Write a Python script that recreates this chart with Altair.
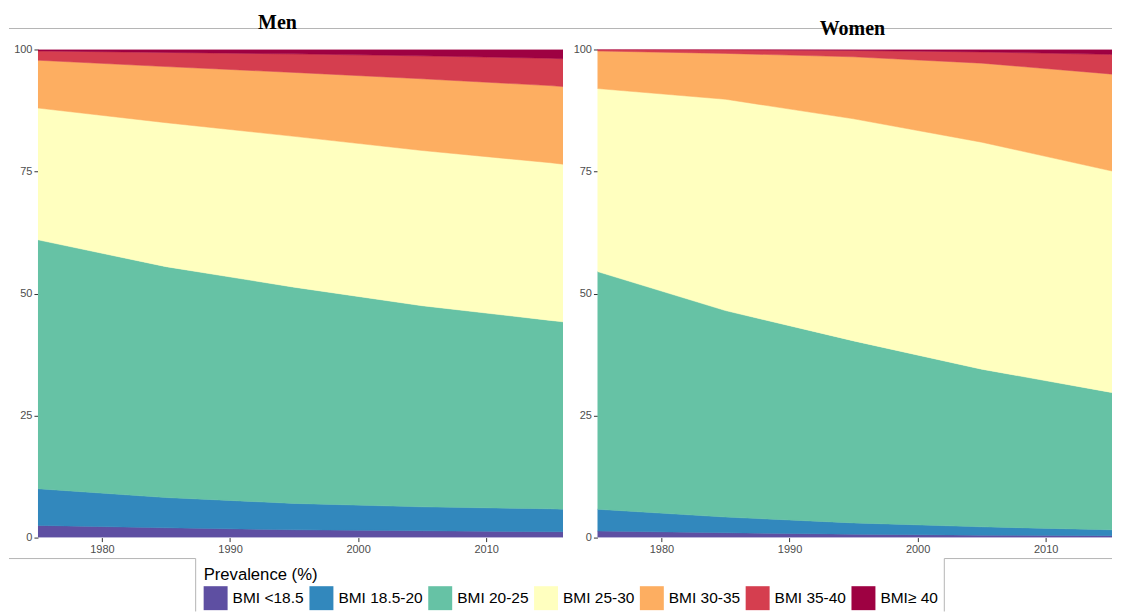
import altair as alt
import pandas as pd

years = [1975, 1985, 1995, 2005, 2015, 2016]
categories = ["BMI <18.5", "BMI 18.5-20", "BMI 20-25", "BMI 25-30",
              "BMI 30-35", "BMI 35-40", "BMI≥ 40"]
colors = ["#5e4fa2", "#3288bd", "#66c2a5", "#ffffbf",
          "#fdae61", "#d53e4f", "#9e0142"]

# Men: prevalence (%) of each BMI band
men_lt185 = [2.5, 2.0, 1.6, 1.4, 1.2, 1.2]
men_185_20 = [7.5, 6.2, 5.4, 4.9, 4.7, 4.6]
men_20_25 = [51.0, 47.3, 44.3, 41.2, 38.6, 38.4]
men_25_30 = [27.0, 29.5, 30.9, 31.8, 32.3, 32.3]
men_30_35 = [9.8, 11.5, 13.1, 14.7, 15.8, 15.9]
men_35_40 = [1.9, 2.9, 3.8, 4.7, 5.6, 5.7]
men_ge40 = [0.3, 0.6, 0.9, 1.3, 1.8, 1.9]

# Women
women_lt185 = [1.35, 1.0, 0.7, 0.5, 0.4, 0.4]
women_185_20 = [4.45, 3.2, 2.3, 1.7, 1.2, 1.1]
women_20_25 = [48.7, 42.3, 37.3, 32.3, 28.2, 27.8]
women_25_30 = [37.5, 43.3, 45.5, 46.5, 45.4, 45.4]
women_30_35 = [7.7, 9.4, 12.7, 16.2, 19.8, 20.0]
women_35_40 = [0.3, 0.75, 1.3, 2.3, 4.0, 4.2]
women_ge40 = [0.0, 0.05, 0.2, 0.5, 1.0, 1.1]

x_ticks = [1980, 1990, 2000, 2010]
y_ticks = [0, 25, 50, 75, 100]


def long_table(series):
    rows = []
    for i, (cat, vals) in enumerate(zip(categories, series)):
        for yr, v in zip(years, vals):
            rows.append({"year": yr, "bmi": cat, "idx": i, "value": v})
    return pd.DataFrame(rows)


men_df = long_table([men_lt185, men_185_20, men_20_25, men_25_30,
                     men_30_35, men_35_40, men_ge40])
women_df = long_table([women_lt185, women_185_20, women_20_25, women_25_30,
                       women_30_35, women_35_40, women_ge40])

axis_common = dict(title=None, grid=False, domain=False, tickColor="#333333",
                   tickSize=4, labelColor="#4d4d4d", labelFont="Liberation Sans",
                   labelFontSize=11)


def area_chart(df, width, x_end, legend):
    return alt.Chart(df).mark_area(clip=True, strokeWidth=0.5).encode(
        x=alt.X("year:Q",
                scale=alt.Scale(domain=[1975, x_end], nice=False, zero=False),
                axis=alt.Axis(values=x_ticks, format="d", labelPadding=2, **axis_common)),
        y=alt.Y("value:Q", stack="zero",
                scale=alt.Scale(domain=[0, 100], nice=False),
                axis=alt.Axis(values=y_ticks, labelPadding=2, **axis_common)),
        color=alt.Color("bmi:N", scale=alt.Scale(domain=categories, range=colors),
                        legend=legend),
        stroke=alt.Stroke("bmi:N", scale=alt.Scale(domain=categories, range=colors),
                          legend=None),
        order=alt.Order("idx:Q"),
    ).properties(width=width, height=489)


legend = alt.Legend(
    title="Prevalence (%)", orient="none", legendX=166, legendY=518,
    direction="horizontal", columns=7, symbolType="square", symbolSize=576,
    symbolStrokeWidth=0, titleFont="Liberation Sans", titleFontSize=16.7,
    titleFontWeight="normal", titleColor="#000000", titlePadding=3,
    labelFont="Liberation Sans", labelFontSize=15.5, labelColor="#000000",
    labelOffset=5, columnPadding=5, padding=0,
)

one = pd.DataFrame({"k": [0]})
line_color = "#b5b5b5"

deco = [
    # bounding pin (invisible)
    alt.Chart(one).mark_rule(strokeOpacity=0).encode(
        x=alt.value(-29), y=alt.value(-41), y2=alt.value(-40)),
    # horizontal rule under the titles
    alt.Chart(one).mark_rule(color=line_color, strokeWidth=1).encode(
        x=alt.value(-29), x2=alt.value(1076), y=alt.value(-21)),
    # left box around legend area
    alt.Chart(one).mark_rule(color=line_color, strokeWidth=1).encode(
        x=alt.value(-29), x2=alt.value(158), y=alt.value(510)),
    alt.Chart(one).mark_rule(color=line_color, strokeWidth=1).encode(
        x=alt.value(158), y=alt.value(510), y2=alt.value(563)),
    # right box
    alt.Chart(one).mark_rule(color=line_color, strokeWidth=1).encode(
        x=alt.value(908), y=alt.value(510), y2=alt.value(563)),
    alt.Chart(one).mark_rule(color=line_color, strokeWidth=1).encode(
        x=alt.value(908), x2=alt.value(1076), y=alt.value(510)),
    # panel titles
    alt.Chart(one).mark_text(text="Men", font="Liberation Serif", fontWeight="bold",
                             fontSize=20, align="center", baseline="alphabetic",
                             color="#000000").encode(x=alt.value(240), y=alt.value(-21)),
    alt.Chart(one).mark_text(text="Women", font="Liberation Serif", fontWeight="bold",
                             fontSize=20, align="center", baseline="alphabetic",
                             color="#000000").encode(x=alt.value(816), y=alt.value(-14)),
]

men = alt.layer(area_chart(men_df, 526, 2016, legend), *deco)
women = area_chart(women_df, 515.5, 2015.18, None)

chart = alt.hconcat(men, women, spacing=34.5, bounds="flush").resolve_scale(
    color="independent", stroke="independent"
).resolve_legend(color="independent", stroke="independent").properties(
    padding=0, background="#ffffff"
).configure_view(strokeWidth=0)

chart.save("out.html", embed_options={"renderer": "svg", "actions": False})
